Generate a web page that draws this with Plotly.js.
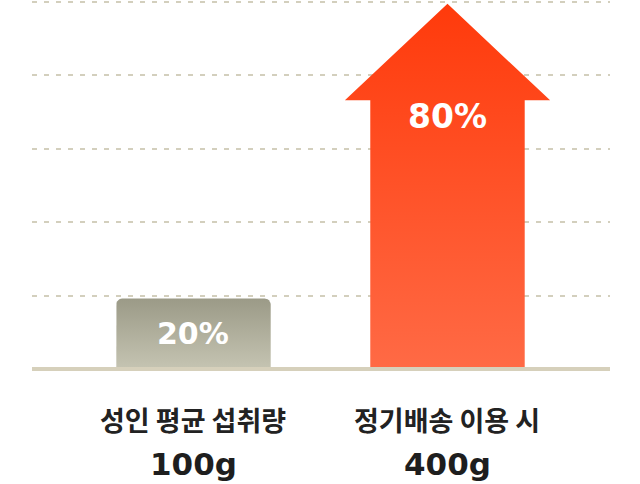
<!DOCTYPE html>
<html>
<head>
<meta charset="utf-8">
<script src="https://cdn.plot.ly/plotly-3.0.1.min.js"></script>
<style>
  html, body { margin: 0; padding: 0; background: #ffffff; }
  #chart { width: 640px; height: 484px; }
</style>
</head>
<body>
<div id="chart"></div>
<script>
// Chart data
const categories = ['성인 평균 섭취량', '정기배송 이용 시'];
const amounts = ['100g', '400g'];
const percentLabels = ['20%', '80%'];
// visual heights on the 0-100 scale (bar top / arrow tip)
const heights = [19.2, 99.5];

// Styling
const gridColor = '#d3cfbd';
const baseColor = '#d6d0bb';
const grayTop = '#9b9a87';
const grayBottom = '#c5c4b2';
const redTop = '#ff3a0b';
const redBottom = '#ff6a45';
const numFont = '"DejaVu Sans", sans-serif';

const barHalf = 0.304;     // half width of bar / arrow body (x units)
const headHalf = 0.404;    // half width of arrow head
const headDepth = 26.3;    // arrow head height (y units)
const cornerX = 0.024;     // rounded corner radius of the gray bar
const cornerY = 1.6;

// Gray bar with rounded top corners
function roundedBar(c, h) {
  var xs = [c - barHalf];
  var ys = [0];
  var steps = 6;
  // left corner
  for (var i = 0; i <= steps; i++) {
    var a = Math.PI - (Math.PI / 2) * (i / steps);
    xs.push(c - barHalf + cornerX + cornerX * Math.cos(a));
    ys.push(h - cornerY + cornerY * Math.sin(a));
  }
  // right corner
  for (var j = 0; j <= steps; j++) {
    var b = Math.PI / 2 - (Math.PI / 2) * (j / steps);
    xs.push(c + barHalf - cornerX + cornerX * Math.cos(b));
    ys.push(h - cornerY + cornerY * Math.sin(b));
  }
  xs.push(c + barHalf);
  ys.push(0);
  xs.push(c - barHalf);
  ys.push(0);
  return { x: xs, y: ys };
}

// Arrow pointing up, tip at h
function arrow(c, h) {
  var s = h - headDepth;
  return {
    x: [c - barHalf, c - barHalf, c - headHalf, c, c + headHalf, c + barHalf, c + barHalf, c - barHalf],
    y: [0, s, s, h, s, s, 0, 0],
  };
}

var barShape = roundedBar(0, heights[0]);
var arrowShape = arrow(1, heights[1]);

var barTrace = {
  x: barShape.x,
  y: barShape.y,
  type: 'scatter',
  mode: 'lines',
  fill: 'toself',
  line: { width: 0, color: grayTop },
  fillgradient: {
    type: 'vertical',
    colorscale: [[0, grayBottom], [1, grayTop]],
  },
  hoverinfo: 'skip',
};

var arrowTrace = {
  x: arrowShape.x,
  y: arrowShape.y,
  type: 'scatter',
  mode: 'lines',
  fill: 'toself',
  line: { width: 0, color: redTop },
  fillgradient: {
    type: 'vertical',
    colorscale: [[0, redBottom], [1, redTop]],
  },
  hoverinfo: 'skip',
};

// Labels
var annotations = [];
// percent inside the gray bar
annotations.push({
  x: 0, y: heights[0] / 2, xref: 'x', yref: 'y',
  text: '<b>' + percentLabels[0] + '</b>',
  showarrow: false,
  font: { family: numFont, size: 30, color: '#ffffff' },
});
// percent inside the arrow body
annotations.push({
  x: 1, y: heights[1] - headDepth - 4.5, xref: 'x', yref: 'y',
  text: '<b>' + percentLabels[1] + '</b>',
  showarrow: false,
  font: { family: numFont, size: 33, color: '#ffffff' },
});
// category names and amounts below the axis
categories.forEach((name, i) => {
  annotations.push({
    x: i, y: 0, xref: 'x', yref: 'paper',
    yanchor: 'middle', yshift: -48,
    text: name,
    showarrow: false,
    font: { family: '"Noto Sans CJK KR", sans-serif', size: 27, color: '#222222', weight: 600 },
  });
  annotations.push({
    x: i, y: 0, xref: 'x', yref: 'paper',
    yanchor: 'middle', yshift: -93,
    text: '<b>' + amounts[i] + '</b>',
    showarrow: false,
    font: { family: numFont, size: 31, color: '#1e1e1e' },
  });
});

var layout = {
  width: 640,
  height: 484,
  margin: { l: 32, r: 30, t: 0, b: 113, pad: 0 },
  paper_bgcolor: '#ffffff',
  plot_bgcolor: '#ffffff',
  showlegend: false,
  xaxis: {
    range: [-0.6358, 1.6398],
    showgrid: false,
    zeroline: false,
    showticklabels: false,
    fixedrange: true,
  },
  yaxis: {
    range: [-0.55, 100.55],
    tickvals: [20, 40, 60, 80, 100],
    showgrid: true,
    gridcolor: gridColor,
    gridwidth: 2,
    griddash: '5px,7px',
    zeroline: false,
    showticklabels: false,
    fixedrange: true,
  },
  shapes: [
    {
      // baseline
      type: 'line', xref: 'paper', yref: 'y',
      x0: 0, x1: 1, y0: 0, y1: 0,
      line: { color: baseColor, width: 4 },
      layer: 'above',
    },
  ],
  annotations: annotations,
};

var config = { responsive: false, displayModeBar: false, staticPlot: true };

Plotly.newPlot('chart', [barTrace, arrowTrace], layout, config);
</script>
</body>
</html>
